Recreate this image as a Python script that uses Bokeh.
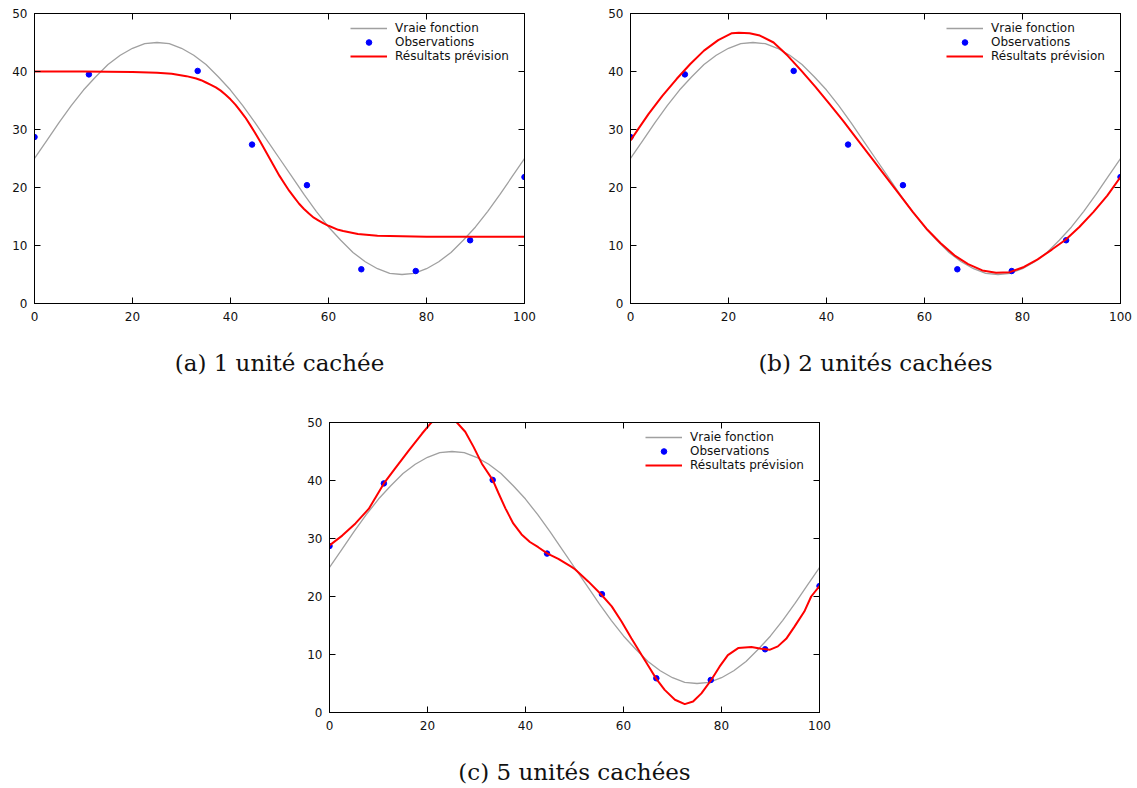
from bokeh.plotting import figure
from bokeh.models import (LinearAxis, Range1d, FixedTicker, Legend, LegendItem,
                          Spacer)
from bokeh.layouts import column, row
from bokeh.embed import file_html
from bokeh.resources import INLINE

# ---------------- data ----------------
x_ticks = [0, 20, 40, 60, 80, 100]
y_ticks = [0, 10, 20, 30, 40, 50]

legend_labels = ["Vraie fonction", "Observations", "Résultats prévision"]
captions = ["(a) 1 unité cachée", "(b) 2 unités cachées", "(c) 5 unités cachées"]

# true function (grey curve)
true_x = [0, 2.5, 5, 7.5, 10, 12.5, 15, 17.5, 20, 22.5, 25, 27.5, 30, 32.5, 35,
          37.5, 40, 42.5, 45, 47.5, 50, 52.5, 55, 57.5, 60, 62.5, 65, 67.5, 70,
          72.5, 75, 77.5, 80, 82.5, 85, 87.5, 90, 92.5, 95, 97.5, 100]
true_y = [25.0, 28.1, 31.2, 34.1, 36.8, 39.1, 41.2, 42.8, 44.0, 44.8, 45.0, 44.8,
          44.0, 42.8, 41.2, 39.1, 36.8, 34.1, 31.2, 28.1, 25.0, 21.9, 18.8, 15.9,
          13.2, 10.9, 8.8, 7.2, 6.0, 5.2, 5.0, 5.2, 6.0, 7.2, 8.8, 10.9, 13.2,
          15.9, 18.8, 21.9, 25.0]

# observations (blue dots)
obs_x = [0, 11.1, 33.3, 44.4, 55.6, 66.7, 77.8, 88.9, 100]
obs_y = [28.7, 39.5, 40.1, 27.4, 20.4, 5.9, 5.6, 10.9, 21.8]

# predictions, 1 hidden unit
pred1_x = [0, 10, 20, 25, 28, 31, 33, 34, 35, 36, 37, 38, 39, 40, 41, 42, 43,
           44, 45, 46, 47, 48, 49, 50, 51, 52, 53, 54, 55, 56, 57, 58, 59, 60,
           62, 63, 66, 70, 75, 80, 90, 100]
pred1_y = [40.0, 40.0, 39.9, 39.8, 39.6, 39.2, 38.8, 38.5, 38.1, 37.7, 37.25,
           36.7, 36.0, 35.2, 34.3, 33.2, 32.1, 30.8, 29.45, 28.0, 26.5, 25.0,
           23.5, 22.0, 20.7, 19.4, 18.3, 17.2, 16.3, 15.5, 14.8, 14.3, 13.8,
           13.4, 12.7, 12.5, 12.0, 11.7, 11.6, 11.5, 11.5, 11.5]

# predictions, 2 hidden units
pred2_x = [0, 1.6, 3.7, 6.5, 9.4, 12.2, 15.0, 17.9, 20.7, 22.1, 24.3, 26.4,
           29.2, 32.1, 34.9, 37.7, 40.6, 43.4, 46.2, 49.1, 51.9, 54.8, 57.6,
           60.4, 63.3, 66.1, 68.9, 71.8, 74.6, 77.4, 80.3, 83.1, 86.0, 88.8,
           91.6, 94.5, 97.3, 100]
pred2_y = [28.1, 30.1, 32.7, 35.8, 38.7, 41.3, 43.6, 45.4, 46.6, 46.7, 46.6,
           46.2, 45.0, 42.7, 40.1, 37.4, 34.4, 31.5, 28.4, 25.2, 22.1, 18.9,
           15.8, 12.9, 10.4, 8.3, 6.8, 5.7, 5.3, 5.4, 6.3, 7.6, 9.3, 11.0, 13.2,
           15.8, 18.6, 21.8]

# predictions, 5 hidden units
pred5_x = [0, 2.6, 5.3, 8.0, 11.1, 13.4, 16.2, 18.9, 20.6, 22.0, 23.5, 25.0,
           26.0, 27.7, 29.4, 31.1, 33.3, 34.5, 35.9, 37.5, 39.2, 40.9, 42.6,
           44.5, 46.7, 49.4, 50.1, 52.8, 55.5, 57.6, 59.6, 61.6, 63.7, 65.4,
           66.7, 68.4, 70.5, 72.5, 74.2, 75.9, 77.9, 79.6, 81.3, 83.4, 86.1,
           88.1, 89.8, 91.5, 93.2, 94.9, 96.9, 98.3, 100]
pred5_y = [28.8, 30.5, 32.6, 35.1, 39.5, 42.1, 45.2, 48.1, 49.8, 51.0, 51.4,
           51.0, 50.0, 48.4, 45.8, 42.9, 40.1, 37.8, 35.2, 32.6, 30.7, 29.4,
           28.5, 27.4, 26.5, 25.1, 24.7, 22.6, 20.3, 18.3, 15.7, 12.8, 9.9, 7.6,
           5.8, 3.9, 2.2, 1.44, 1.9, 3.3, 5.6, 7.9, 9.9, 11.1, 11.3, 11.0, 10.8,
           11.4, 12.7, 14.8, 17.4, 20.0, 21.8]

# ---------------- styling ----------------
GREY = "#a0a0a0"
RED = "#ff0000"
BLUE = "#0000ff"
TICK_FONT = "DejaVu Sans"
CAP_FONT = "DejaVu Serif"


def style_axis(ax, show_labels=True, standoff=6):
    ax.major_tick_in = 6
    ax.major_tick_out = 0
    ax.minor_tick_line_color = None
    ax.axis_line_color = "black"
    ax.major_tick_line_color = "black"
    if show_labels:
        ax.major_label_text_font = TICK_FONT
        ax.major_label_text_font_size = "12px"
        ax.major_label_text_color = "#111111"
        ax.major_label_standoff = standoff
    else:
        ax.major_label_text_font_size = "1px"
        ax.major_label_text_color = None
        ax.major_label_text_alpha = 0
        ax.major_label_standoff = 0


def make_panel(px, py, caption, left, top, bottom):
    p = figure(frame_width=490, frame_height=290,
               x_range=Range1d(0, 100), y_range=Range1d(0, 50),
               output_backend="svg", toolbar_location=None,
               min_border_left=left, min_border_right=15,
               min_border_top=top, min_border_bottom=bottom)
    p.grid.visible = False
    p.outline_line_color = "black"
    p.outline_line_width = 1
    p.background_fill_color = "white"
    p.border_fill_color = "white"

    p.xaxis.ticker = FixedTicker(ticks=x_ticks)
    p.yaxis.ticker = FixedTicker(ticks=y_ticks)
    for ax in p.xaxis:
        style_axis(ax, True, 8)
        # sub-figure caption
        ax.axis_label = caption
        ax.axis_label_text_font = CAP_FONT
        ax.axis_label_text_font_size = "23px"
        ax.axis_label_text_font_style = "normal"
        ax.axis_label_text_color = "#111111"
        ax.axis_label_standoff = 26
    for ax in p.yaxis:
        style_axis(ax, True, 7)

    right = LinearAxis(ticker=FixedTicker(ticks=y_ticks))
    style_axis(right, False)
    p.add_layout(right, "right")
    above = LinearAxis(ticker=FixedTicker(ticks=x_ticks))
    style_axis(above, False)
    p.add_layout(above, "above")

    r_true = p.line(true_x, true_y, line_color=GREY, line_width=1.3)
    r_obs = p.scatter(obs_x, obs_y, marker="circle", size=5.5,
                      fill_color=BLUE, line_color=BLUE)
    r_pred = p.line(px, py, line_color=RED, line_width=2)

    legend = Legend(items=[LegendItem(label=legend_labels[0], renderers=[r_true]),
                           LegendItem(label=legend_labels[1], renderers=[r_obs]),
                           LegendItem(label=legend_labels[2], renderers=[r_pred])],
                    location="top_right", border_line_color=None,
                    background_fill_alpha=0.0,
                    label_text_font=TICK_FONT, label_text_font_size="12px",
                    label_text_color="#111111",
                    glyph_width=37, glyph_height=14, label_height=14,
                    label_width=121,
                    spacing=0, padding=4, margin=8, label_standoff=8)
    p.add_layout(legend)
    return p


pa = make_panel(pred1_x, pred1_y, captions[0], 34, 13, 79)
pb = make_panel(pred2_x, pred2_y, captions[1], 24, 13, 79)
pc = make_panel(pred5_x, pred5_y, captions[2], 24, 40, 76)

layout = column(row(pa, Spacer(width=66), pb),
                row(Spacer(width=304), pc))

open("out.html", "w").write(file_html(layout, INLINE))
